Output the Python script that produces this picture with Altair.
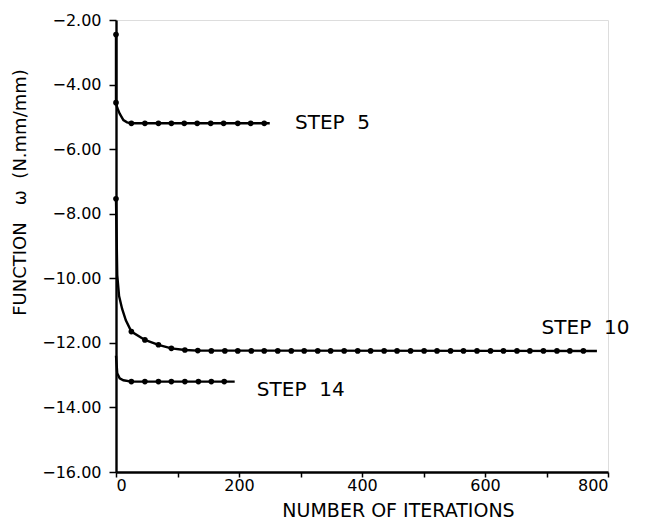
import altair as alt
import pandas as pd

# ---- data ----
s5_x = [0, 0, 2, 6, 12, 18, 25, 250]
s5_y = [-2.45, -4.56, -4.72, -4.9, -5.1, -5.17, -5.2, -5.2]
s5_mx = [0, 0, 25, 47, 69, 90, 111, 132, 154, 175, 198, 219, 241]
s5_my = [-2.45, -4.56, -5.2, -5.2, -5.2, -5.2, -5.2, -5.2, -5.2, -5.2, -5.2, -5.2, -5.2]

s10_x = [0, 2, 5, 10, 16, 25, 47, 69, 90, 112, 133, 782]
s10_y = [-7.54, -9.9, -10.55, -10.95, -11.3, -11.65, -11.91, -12.06, -12.17, -12.22, -12.24, -12.25]
s10_mx = [0, 25, 47, 69, 90, 112, 133, 155, 177, 198, 220, 241, 263, 285, 306, 328,
          349, 371, 393, 414, 436, 457, 479, 501, 522, 544, 565, 587, 609, 630, 652,
          673, 695, 717, 738, 760]
s10_my = [-7.54, -11.65, -11.91, -12.06, -12.17, -12.22, -12.24, -12.25, -12.25, -12.25,
          -12.25, -12.25, -12.25, -12.25, -12.25, -12.25, -12.25, -12.25, -12.25, -12.25,
          -12.25, -12.25, -12.25, -12.25, -12.25, -12.25, -12.25, -12.25, -12.25, -12.25,
          -12.25, -12.25, -12.25, -12.25, -12.25, -12.25]

s14_x = [0, 2, 6, 12, 25, 193]
s14_y = [-12.4, -12.94, -13.1, -13.16, -13.2, -13.2]
s14_mx = [25, 47, 69, 90, 112, 134, 155, 176]
s14_my = [-13.2, -13.2, -13.2, -13.2, -13.2, -13.2, -13.2, -13.2]

NB = "\u00a0"
label_text = ["STEP" + NB * 2 + "5", "STEP" + NB * 2 + "10", "STEP" + NB * 2 + "14"]
label_x = [291, 692, 229]
label_y = [-5.2, -11.54, -13.45]

x_ticks = [0, 50, 100, 150, 200, 250, 300, 350, 400, 450, 500, 550, 600, 650, 700, 750, 800]
y_ticks = [-16, -15, -14, -13, -12, -11, -10, -9, -8, -7, -6, -5, -4, -3, -2]

# ---- tables ----
lines = pd.concat([
    pd.DataFrame({"x": s5_x, "y": s5_y, "s": "5"}),
    pd.DataFrame({"x": s10_x, "y": s10_y, "s": "10"}),
    pd.DataFrame({"x": s14_x, "y": s14_y, "s": "14"}),
], ignore_index=True)
lines["o"] = range(len(lines))

marks = pd.concat([
    pd.DataFrame({"x": s5_mx, "y": s5_my}),
    pd.DataFrame({"x": s10_mx, "y": s10_my}),
    pd.DataFrame({"x": s14_mx, "y": s14_my}),
], ignore_index=True)

labels = pd.DataFrame({"t": label_text, "x": label_x, "y": label_y})

FONT = "DejaVu Sans"

xscale = alt.Scale(domain=[0, 800], nice=False)
yscale = alt.Scale(domain=[-16, -2], nice=False)

xax = alt.Axis(
    values=x_ticks, labelExpr="datum.value % 200 === 0 ? datum.label : ''",
    format="d", grid=False, tickSize=5, tickWidth=1.5, tickColor="black",
    domainWidth=2.4, domainColor="black", labelPadding=0, labelFontSize=16,
    labelFont=FONT, labelColor="black", title="NUMBER OF ITERATIONS",
    titleFont=FONT, titleFontSize=19, titleFontWeight="normal", titleColor="black",
    titleX=282, titleY=38, titleAlign="center", titleBaseline="middle",
)
yax = alt.Axis(
    values=y_ticks, labelExpr="datum.value % 2 === 0 ? datum.label : ''",
    format=".2f", grid=False, tickSize=7, tickWidth=1.5, tickColor="black",
    domainWidth=2.4, domainColor="black", labelPadding=8, labelFontSize=16,
    labelFont=FONT, labelColor="black",
    title="FUNCTION" + NB * 3 + "ω" + NB * 2 + "(N.mm/mm)",
    titleFont=FONT, titleFontSize=18, titleFontWeight="normal", titleColor="black",
    titleX=-96, titleY=172, titleAlign="center", titleBaseline="middle", titleAngle=270,
)

line_layer = alt.Chart(lines).mark_line(color="black", strokeWidth=2.4).encode(
    x=alt.X("x:Q", scale=xscale, axis=xax),
    y=alt.Y("y:Q", scale=yscale, axis=yax),
    detail="s:N",
    order="o:Q",
)

pt_layer = alt.Chart(marks).mark_circle(color="black", size=32, opacity=1).encode(
    x=alt.X("x:Q", scale=xscale),
    y=alt.Y("y:Q", scale=yscale),
)

txt_layer = alt.Chart(labels).mark_text(
    align="left", baseline="middle", fontSize=20, font=FONT, color="black"
).encode(
    x=alt.X("x:Q", scale=xscale),
    y=alt.Y("y:Q", scale=yscale),
    text="t:N",
)

chart = alt.layer(line_layer, pt_layer, txt_layer).properties(
    width=492, height=452,
    autosize=alt.AutoSizeParams(type="none"),
    padding={"left": 108, "top": 12, "right": 40, "bottom": 47},
).configure_view(stroke=None).configure(background="white")

chart.save("out.html", embed_options={"renderer": "svg", "actions": False})
